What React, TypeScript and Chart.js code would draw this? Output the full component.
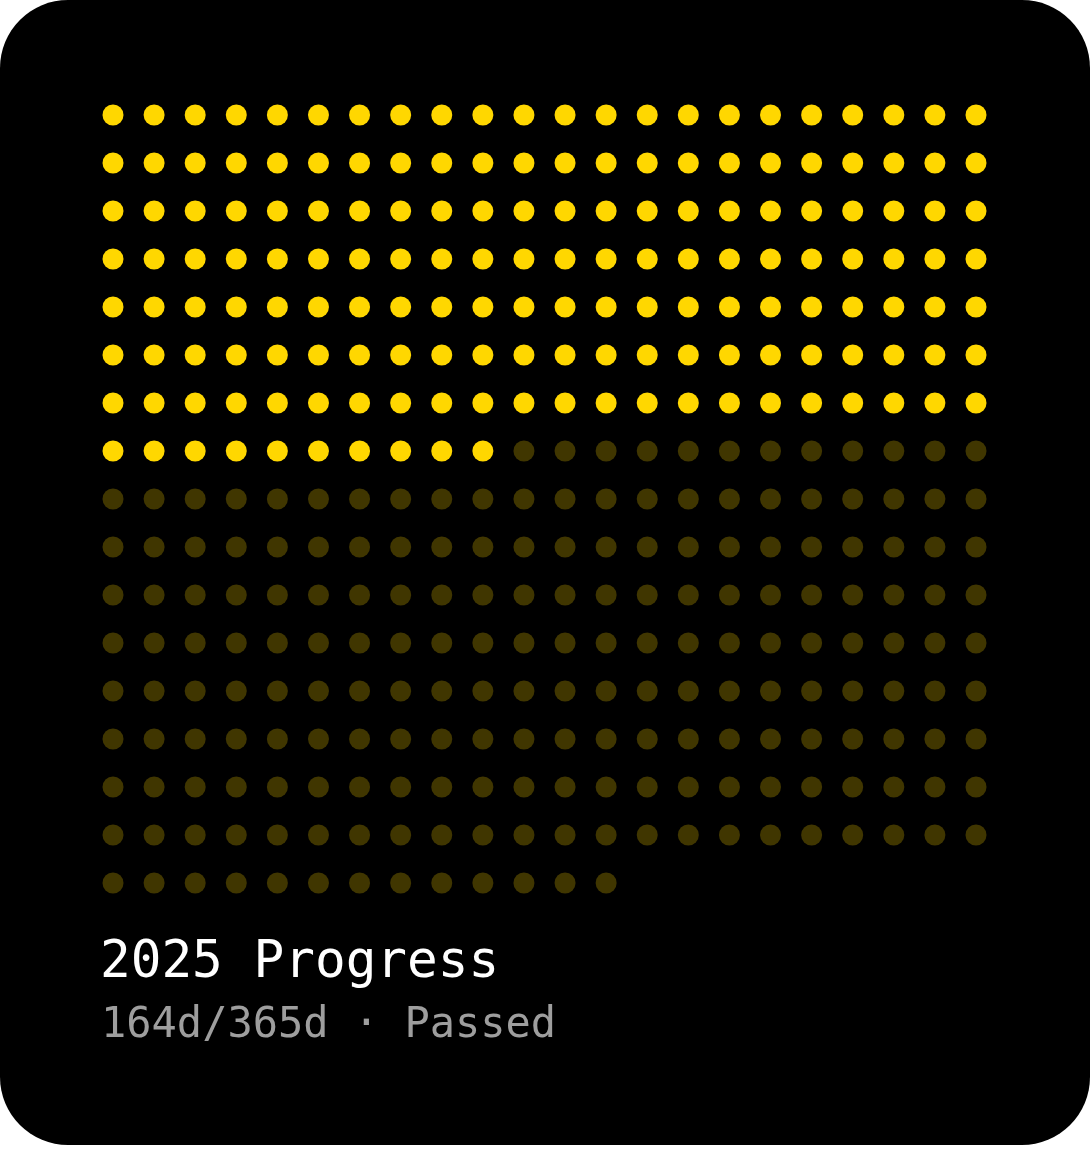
import React, { useEffect, useRef } from "react";
import { Chart, registerables } from "chart.js";

Chart.register(...registerables);

const year = 2025;
const totalDays = 365;
const passedDays = 164;
const columns = 22;
const titleText = `${year} Progress`;
const subtitleText = `${passedDays}d/${totalDays}d · Passed`;

const dayIndex: number[] = Array.from({ length: totalDays }, (_, i) => i);

const GOLD = "#FFD700";
const DIM = "rgba(255,215,0,0.25)";

export default function App() {
  const ref = useRef<HTMLCanvasElement | null>(null);

  useEffect(() => {
    if (!ref.current) return;
    const rows = Math.ceil(totalDays / columns);
    const points = dayIndex.map((i) => ({ x: i % columns, y: Math.floor(i / columns) }));
    const colors = dayIndex.map((i) => (i < passedDays ? GOLD : DIM));
    const chart = new Chart(ref.current, {
      type: "scatter",
      data: {
        datasets: [
          {
            data: points,
            pointRadius: 10.5,
            pointHoverRadius: 10.5,
            pointBackgroundColor: colors,
            pointBorderWidth: 0,
            borderWidth: 0,
            clip: false as any,
          },
        ],
      },
      options: {
        animation: false,
        responsive: false,
        devicePixelRatio: 1,
        layout: { padding: { left: 113, right: 114, top: 115, bottom: 262 } },
        scales: {
          x: { type: "linear", min: 0, max: columns - 1, display: false },
          y: { type: "linear", min: 0, max: rows - 1, reverse: true, display: false },
        },
        plugins: { legend: { display: false }, tooltip: { enabled: false } },
        events: [],
      },
    });
    return () => chart.destroy();
  }, []);

  return (
    <div
      style={{
        position: "absolute",
        left: 0,
        top: 0,
        width: 1090,
        height: 1145,
        background: "#000",
        borderRadius: 68,
        overflow: "hidden",
      }}
    >
      <canvas ref={ref} width={1090} height={1145} style={{ position: "absolute", left: 0, top: 0, width: 1090, height: 1145 }} />
      <div
        style={{
          position: "absolute",
          left: 100,
          top: 934,
          fontFamily: "'DejaVu Sans Mono', monospace",
          fontSize: 51,
          lineHeight: "51px",
          color: "#ffffff",
          whiteSpace: "pre",
        }}
      >
        {titleText}
      </div>
      <div
        style={{
          position: "absolute",
          left: 101,
          top: 1002,
          fontFamily: "'DejaVu Sans Mono', monospace",
          fontSize: 42,
          lineHeight: "42px",
          color: "#9e9e9e",
          whiteSpace: "pre",
        }}
      >
        {subtitleText}
      </div>
    </div>
  );
}
